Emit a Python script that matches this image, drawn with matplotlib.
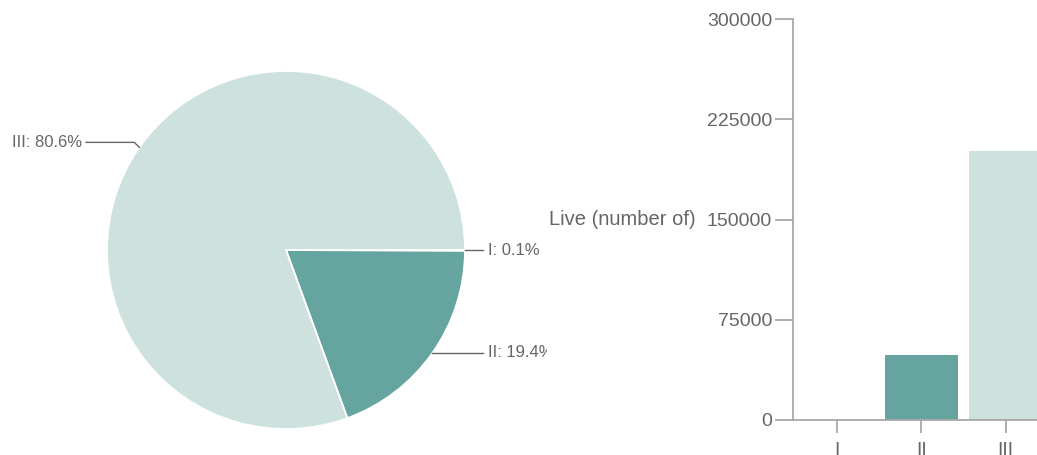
## Pie + bar of live counts by class
import numpy as np
import matplotlib
matplotlib.use("Agg")
import matplotlib.pyplot as plt

plt.rcParams['font.family'] = ['Liberation Sans', 'DejaVu Sans']

# data
categories = ["I", "II", "III"]
live = [200, 48400, 201500]
colors = ["#cfe2df", "#66a59f", "#cde1df"]
yticks = [0, 75000, 150000, 225000, 300000]

W, H = 1037, 455
fig = plt.figure(figsize=(W / 100, H / 100), dpi=100)
text_col = "#666666"
line_col = "#a8a8a8"

###~~~~~~~~~~~~~~~~~~~~~~~~~~~~~~~~~~~~~~~~~~~~~~~~~~~~~~~~~~~~~~
# pie, in a pixel-sized axes (clipped at x=547 like the original)
pw = 547
axp = fig.add_axes([0, 0, pw / W, 1])

cx, cy, r = 286, H - 250, 179
wedges, _ = axp.pie(live, colors=colors, startangle=0, counterclock=False,
                    center=(cx, cy), radius=r, frame=True,
                    wedgeprops=dict(edgecolor="white", linewidth=1.3))
axp.set_xlim(0, pw)
axp.set_ylim(0, H)
axp.set_aspect("equal")
axp.axis("off")

total = sum(live)
for w, cat, v in zip(wedges, categories, live):
    mid = np.radians((w.theta1 + w.theta2) / 2)
    ex, ey = cx + r * np.cos(mid), cy + r * np.sin(mid)
    label = f"{cat}: {100 * v / total:.1f}%"
    if np.cos(mid) > 0:
        axp.plot([ex, 483], [ey, ey], color=text_col, lw=1, clip_on=False)
        axp.text(488, ey, label, ha="left", va="center", fontsize=12,
                 color=text_col, clip_on=True)
    else:
        ly = ey + 5
        axp.plot([ex, ex - 5, 86], [ey, ly, ly], color=text_col, lw=1)
        axp.text(82, ly, label, ha="right", va="center", fontsize=12,
                 color=text_col)

###~~~~~~~~~~~~~~~~~~~~~~~~~~~~~~~~~~~~~~~~~~~~~~~~~~~~~~~~~~~~~~
# bar chart, cut off at the right edge
x0, y0, y1 = 793, 420, 19
axb = fig.add_axes([x0 / W, (H - y0) / H, (W - x0) / W, (y0 - y1) / H])
pos = np.arange(len(categories))
axb.bar(pos, live, width=0.87, color=colors)
axb.set_xlim(-0.52, 2.37)
axb.set_ylim(0, 300000)
axb.set_yticks(yticks)
axb.set_xticks(pos)
axb.set_xticklabels(categories)

for s in ["top", "right"]:
    axb.spines[s].set_visible(False)
for s in ["left", "bottom"]:
    axb.spines[s].set_color(line_col)
    axb.spines[s].set_linewidth(1.3)

axb.tick_params(axis="y", length=13, width=1.3, color=line_col, pad=2,
                labelsize=14, labelcolor=text_col)
axb.tick_params(axis="x", length=9, width=1.3, color=line_col, pad=7,
                labelsize=14, labelcolor=text_col)

axb.set_ylabel("Live (number of)", rotation=0, ha="right", va="center",
               fontsize=14.5, color=text_col)
axb.yaxis.set_label_coords((696 - x0) / (W - x0), 0.5)

fig.savefig("out.png", dpi=100)
